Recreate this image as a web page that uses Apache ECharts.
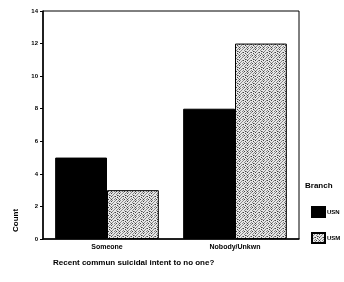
<!DOCTYPE html>
<html><head><meta charset="utf-8">
<script src="https://cdn.jsdelivr.net/npm/echarts@6/dist/echarts.min.js"></script>
<style>html,body{margin:0;padding:0;background:#fff}#c{width:344px;height:282px}</style>
</head><body><div id="c"></div>
<script>
const categories = ['Someone', 'Nobody/Unkwn'];
const seriesNames = ['USN', 'USM'];
const usnValues = [5, 8];
const usmValues = [3, 12];
const yTicks = [0, 2, 4, 6, 8, 10, 12, 14];

// deterministic stipple texture (style only)
const pc = document.createElement('canvas');
pc.width = 8; pc.height = 8;
const px = pc.getContext('2d');
px.fillStyle = '#e6e6e6'; px.fillRect(0, 0, 8, 8);
const stipple = [
  '10010010',
  '00100101',
  '01001000',
  '10000110',
  '00110001',
  '01000100',
  '10010010',
  '00101001'
];
stipple.forEach((row, y) => row.split('').forEach((c, x) => {
  if (c === '1') { px.fillStyle = (x + y) % 3 ? '#444' : '#888'; px.fillRect(x, y, 1, 1); }
}));
const pattern = { image: pc, repeat: 'repeat' };

const font = 'Liberation Sans, Arial, sans-serif';
const chart = echarts.init(document.getElementById('c'), null, { renderer: 'canvas' });
chart.setOption({
  animation: false,
  backgroundColor: '#fff',
  grid: { left: 43, right: 45, top: 11, bottom: 43, show: true, borderColor: '#000', borderWidth: 1 },
  xAxis: {
    type: 'category', data: categories,
    axisLine: { lineStyle: { color: '#000', width: 1.5 } },
    axisTick: { show: false },
    axisLabel: { color: '#000', fontFamily: font, fontSize: 7, fontWeight: 'bold', margin: 5 },
    name: 'Recent commun suicidal intent to no one?',
    nameLocation: 'start', nameGap: 0,
    nameTextStyle: { color: '#000', fontFamily: font, fontSize: 8, fontWeight: 'bold', align: 'left', verticalAlign: 'top', padding: [20, 0, 0, 10] }
  },
  yAxis: {
    type: 'value', min: 0, max: 14, interval: 2,
    axisLine: { show: true, lineStyle: { color: '#000', width: 1.5 } },
    axisTick: { show: true, length: 3, lineStyle: { color: '#000' } },
    splitLine: { show: false },
    axisLabel: { color: '#000', fontFamily: font, fontSize: 6, fontWeight: 'bold', margin: 5,
      formatter: v => yTicks.includes(v) ? String(v) : '' }
  },
  legend: {
    orient: 'vertical', left: 306, top: 201, itemGap: 14,
    itemWidth: 13, itemHeight: 10, icon: 'rect',
    textStyle: { color: '#000', fontFamily: font, fontSize: 6, fontWeight: 'bold', padding: [0, 0, 0, -3] },
    data: seriesNames
  },
  graphic: [
    { type: 'text', left: 305, top: 182, style: { text: 'Branch', font: 'bold 8px ' + font, fill: '#000' } },
    { type: 'text', x: 12, y: 232, rotation: Math.PI / 2, style: { text: 'Count', font: 'bold 8px ' + font, fill: '#000' } }
  ],
  series: [
    { name: seriesNames[0], type: 'bar', data: usnValues, barGap: '0%', barCategoryGap: '19%',
      itemStyle: { color: '#000', borderColor: '#000', borderWidth: 1 } },
    { name: seriesNames[1], type: 'bar', data: usmValues,
      itemStyle: { color: pattern, borderColor: '#000', borderWidth: 1 } }
  ]
});
</script></body></html>
